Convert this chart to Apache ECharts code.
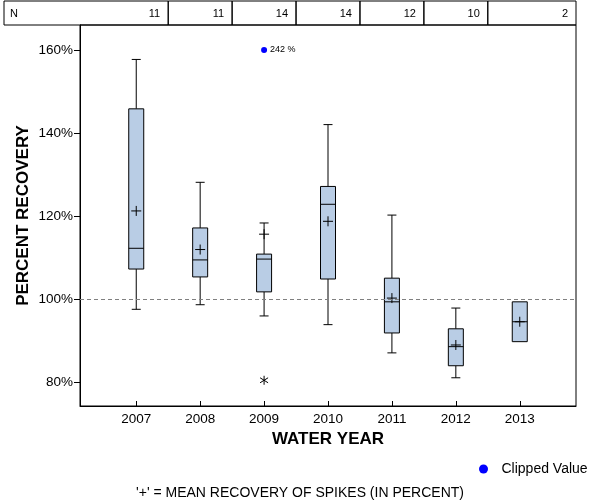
<!DOCTYPE html>
<html>
<head>
<meta charset="utf-8">
<script src="https://cdn.jsdelivr.net/npm/echarts@6/dist/echarts.min.js"></script>
<style>html,body{margin:0;padding:0;background:#fff}#c{width:600px;height:500px}</style>
</head>
<body>
<div id="c"></div>
<script>
// ---- data ----
const years = [2007, 2008, 2009, 2010, 2011, 2012, 2013];
const nCounts = [11, 11, 14, 14, 12, 10, 2];
const whiskerLow = [97.5, 98.6, 95.9, 93.8, 87.0, 81.0, null];
const q1 = [107.2, 105.3, 101.7, 104.8, 91.8, 83.9, 89.7];
const median = [112.2, 109.4, 109.6, 122.8, 99.3, 88.5, 94.5];
const q3 = [145.8, 117.1, 110.8, 127.1, 105.0, 92.8, 99.3];
const whiskerHigh = [157.7, 128.1, 118.3, 142.0, 120.2, 97.8, null];
const means = [121.2, 111.9, 115.6, 118.7, 100.2, 88.9, 94.5];
const outlierYears = [2009];
const outlierValues = [80.4];
const clippedYears = [2009];
const clippedActual = [242];
const clippedShownAt = 160;
const yTicks = [80, 100, 120, 140, 160];
const referenceLevel = 100;

const FONT = 'Liberation Sans, Arial, sans-serif';
const BOX_FILL = '#b9cde5';

const boxData = years.map((y, i) => [y, whiskerLow[i], q1[i], median[i], q3[i], whiskerHigh[i], means[i]]);
const tableData = years.map((y, i) => [y, nCounts[i], i]);
const outlierData = outlierYears.map((y, i) => [y, outlierValues[i]]);
const clippedData = clippedYears.map((y, i) => ({ value: [y, clippedShownAt], actual: clippedActual[i] }));

const chart = echarts.init(document.getElementById('c'), null, { renderer: 'canvas' });

const option = {
  animation: false,
  backgroundColor: '#fff',
  textStyle: { fontFamily: FONT },
  grid: { left: 80, right: 24, top: 25, bottom: 94, show: true, borderColor: '#000', borderWidth: 1, backgroundColor: 'transparent' },
  title: {
    text: "'+' = MEAN RECOVERY OF SPIKES (IN PERCENT)",
    left: 'center', top: 481,
    textStyle: { fontFamily: FONT, fontSize: 14, fontWeight: 'normal', color: '#000' }
  },
  legend: {
    data: ['Clipped Value'],
    left: 474, top: 457,
    itemWidth: 26, itemHeight: 9,
    icon: 'circle',
    itemStyle: { color: '#0000ff', opacity: 1 },
    textStyle: { fontFamily: FONT, fontSize: 14, color: '#000' }
  },
  xAxis: {
    type: 'value', min: 2006.12, max: 2013.88,
    axisLine: { show: true, lineStyle: { color: '#000', width: 1 } },
    axisTick: { show: true, inside: true, length: 5, customValues: years, lineStyle: { color: '#000' } },
    axisLabel: { customValues: years, formatter: v => String(v), color: '#000', fontSize: 13.5, fontFamily: FONT, margin: 6 },
    splitLine: { show: false },
    name: 'WATER YEAR', nameLocation: 'middle', nameGap: 24,
    nameTextStyle: { fontFamily: FONT, fontSize: 17, fontWeight: 'bold', color: '#000' }
  },
  yAxis: {
    type: 'value', min: 74.2, max: 166,
    axisLine: { show: true, lineStyle: { color: '#000', width: 1 } },
    axisTick: { show: true, inside: false, length: 6, customValues: yTicks, lineStyle: { color: '#000' } },
    axisLabel: { customValues: yTicks, formatter: v => v + '%', color: '#000', fontSize: 13.5, fontFamily: FONT, margin: 7 },
    splitLine: { show: false },
    name: 'PERCENT RECOVERY', nameLocation: 'middle', nameGap: 48, nameMoveOverlap: false,
    nameTextStyle: { fontFamily: FONT, fontSize: 17, fontWeight: 'bold', color: '#000' }
  },
  series: [
    {
      type: 'custom', name: 'N table', clip: false, silent: true,
      data: tableData,
      renderItem: function (params, api) {
        const cs = params.coordSys;
        const x = api.coord([api.value(0), 100])[0];
        const half = api.size([1, 0])[0] / 2;
        const idx = api.value(2);
        const top = cs.y - 24, bottom = cs.y;
        const left = idx === 0 ? 4 : x - half;
        const right = idx === years.length - 1 ? cs.x + cs.width : x + half;
        const children = [
          { type: 'rect', shape: { x: left, y: top, width: right - left, height: bottom - top },
            style: { fill: 'none', stroke: '#000', lineWidth: 1 } },
          { type: 'text', style: { x: right - 8, y: (top + bottom) / 2 + 1, text: String(api.value(1)),
            align: 'right', verticalAlign: 'middle', fontSize: 11, fontFamily: FONT, fill: '#000' } }
        ];
        if (idx === 0) {
          children.push({ type: 'text', style: { x: left + 6, y: (top + bottom) / 2 + 1, text: 'N',
            align: 'left', verticalAlign: 'middle', fontSize: 11, fontFamily: FONT, fill: '#000' } });
        }
        return { type: 'group', children: children };
      },
      markLine: {
        silent: true, symbol: 'none',
        label: { show: false },
        lineStyle: { color: '#808080', type: [4, 3], width: 1 },
        data: [{ yAxis: referenceLevel }]
      }
    },
    {
      type: 'custom', name: 'boxes', silent: true,
      data: boxData,
      encode: { x: 0, y: [1, 2, 3, 4, 5, 6] },
      renderItem: function (params, api) {
        const yr = api.value(0);
        const P = v => api.coord([yr, v]);
        const cx = P(100)[0];
        const bw = 7.5, cap = 4.5, pm = 5;
        const lo = api.value(1), b1 = api.value(2), md = api.value(3), b3 = api.value(4), hi = api.value(5), mn = api.value(6);
        const yq1 = P(b1)[1], yq3 = P(b3)[1], ymd = P(md)[1], ymn = P(mn)[1];
        const ls = { stroke: '#000', lineWidth: 1 };
        const ch = [];
        if (hi !== null && isFinite(hi)) {
          const yh = P(hi)[1];
          ch.push({ type: 'line', shape: { x1: cx, y1: yh, x2: cx, y2: yq3 }, style: ls });
          ch.push({ type: 'line', shape: { x1: cx - cap, y1: yh, x2: cx + cap, y2: yh }, style: ls });
        }
        if (lo !== null && isFinite(lo)) {
          const yl = P(lo)[1];
          ch.push({ type: 'line', shape: { x1: cx, y1: yq1, x2: cx, y2: yl }, style: ls });
          ch.push({ type: 'line', shape: { x1: cx - cap, y1: yl, x2: cx + cap, y2: yl }, style: ls });
        }
        ch.push({ type: 'rect', shape: { x: cx - bw, y: yq3, width: 2 * bw, height: yq1 - yq3 },
          style: { fill: BOX_FILL, stroke: '#000', lineWidth: 1 } });
        ch.push({ type: 'line', shape: { x1: cx - bw, y1: ymd, x2: cx + bw, y2: ymd }, style: ls });
        ch.push({ type: 'line', shape: { x1: cx - pm, y1: ymn, x2: cx + pm, y2: ymn }, style: ls });
        ch.push({ type: 'line', shape: { x1: cx, y1: ymn - pm, x2: cx, y2: ymn + pm }, style: ls });
        return { type: 'group', children: ch };
      }
    },
    {
      type: 'custom', name: 'outliers', silent: true,
      data: outlierData,
      renderItem: function (params, api) {
        const p = api.coord([api.value(0), api.value(1)]);
        const ls = { stroke: '#000', lineWidth: 1 };
        return { type: 'group', children: [
          { type: 'line', shape: { x1: p[0], y1: p[1] - 4.5, x2: p[0], y2: p[1] + 4.5 }, style: ls },
          { type: 'line', shape: { x1: p[0] - 4, y1: p[1] - 2.5, x2: p[0] + 4, y2: p[1] + 2.5 }, style: ls },
          { type: 'line', shape: { x1: p[0] - 4, y1: p[1] + 2.5, x2: p[0] + 4, y2: p[1] - 2.5 }, style: ls }
        ] };
      }
    },
    {
      type: 'scatter', name: 'Clipped Value', silent: true,
      symbol: 'circle', symbolSize: 6,
      itemStyle: { color: '#0000ff', opacity: 1 },
      data: clippedData,
      label: {
        show: true, position: 'right', distance: 3,
        formatter: p => p.data.actual + ' %',
        fontSize: 9, fontFamily: FONT, color: '#000'
      }
    }
  ]
};
chart.setOption(option);
</script>
</body>
</html>
